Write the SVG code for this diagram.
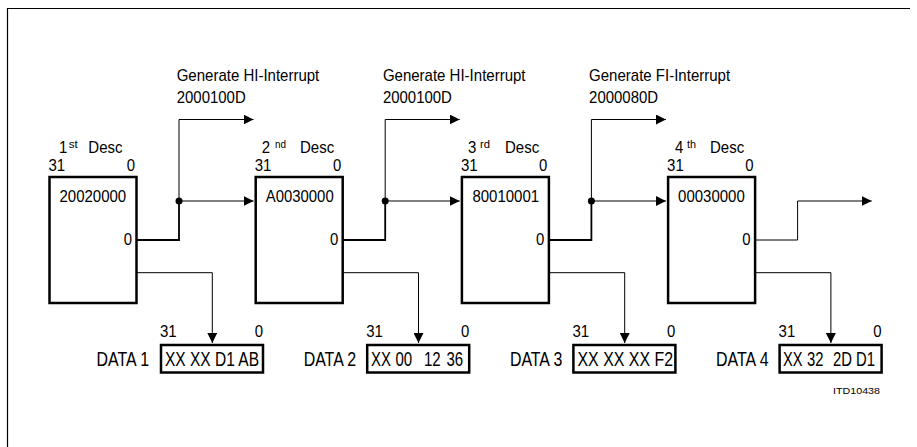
<svg xmlns="http://www.w3.org/2000/svg" width="917" height="447" viewBox="0 0 917 447">
<defs>
<style>
text{font-family:"Liberation Sans",Arial,sans-serif;font-size:17px;fill:#000}
.sup{font-size:11px}
.big{font-size:19.5px}
.e{text-anchor:end}
.box{fill:#fff;stroke:#000;stroke-width:2.5}
.thk{fill:none;stroke:#000;stroke-width:1.8}
.arr{fill:none;stroke:#000;stroke-width:1;marker-end:url(#ah)}
.small{font-size:9.5px}
</style>
<marker id="ah" markerUnits="userSpaceOnUse" markerWidth="10" markerHeight="10" refX="10" refY="5" orient="auto">
<path d="M0,0 L10,5 L0,10 z" fill="#000"/>
</marker>
</defs>
<rect width="917" height="447" fill="#fff"/>
<path d="M7.5,447 V8.5 H910" fill="none" stroke="#000" stroke-width="1.2"/>

<g id="connectors">
<path class="thk" d="M136.5,240 H179 V201"/>
<path class="arr" d="M179,201 V119.5 H253.5"/>
<path class="arr" d="M179,201 H253.5"/>
<circle cx="179" cy="201" r="3.5" fill="#000"/>
<path class="arr" d="M136.5,272.7 H212.3 V343"/>
<path class="thk" d="M342.7,240 H385.2 V201"/>
<path class="arr" d="M385.2,201 V119.5 H459.7"/>
<path class="arr" d="M385.2,201 H459.7"/>
<circle cx="385.2" cy="201" r="3.5" fill="#000"/>
<path class="arr" d="M342.7,272.7 H418.5 V343"/>
<path class="thk" d="M548.9,240 H591.4 V201"/>
<path class="arr" d="M591.4,201 V119.5 H665.9"/>
<path class="arr" d="M591.4,201 H665.9"/>
<circle cx="591.4" cy="201" r="3.5" fill="#000"/>
<path class="arr" d="M548.9,272.7 H624.7 V343"/>
<path class="arr" d="M755.1,240 H797.6 V201 H871.7"/>
<path class="arr" d="M755.1,272.7 H830.9 V343"/>
</g>

<g id="int1">
<text x="176.7" y="80.7" textLength="142.6" lengthAdjust="spacingAndGlyphs">Generate HI-Interrupt</text>
<text x="176.7" y="102.7" textLength="69" lengthAdjust="spacingAndGlyphs">2000100D</text>
</g>
<g id="int2">
<text x="382.9" y="80.7" textLength="142.6" lengthAdjust="spacingAndGlyphs">Generate HI-Interrupt</text>
<text x="382.9" y="102.7" textLength="69" lengthAdjust="spacingAndGlyphs">2000100D</text>
</g>
<g id="int3">
<text x="589.1" y="80.7" textLength="141" lengthAdjust="spacingAndGlyphs">Generate FI-Interrupt</text>
<text x="589.1" y="102.7" textLength="69" lengthAdjust="spacingAndGlyphs">2000080D</text>
</g>

<g id="desc1">
<text x="59" y="152.5" textLength="8.3" lengthAdjust="spacingAndGlyphs">1</text><text class="sup" x="68.8" y="147.5" textLength="9" lengthAdjust="spacingAndGlyphs">st</text><text x="88.3" y="152.5" textLength="34.2" lengthAdjust="spacingAndGlyphs">Desc</text>
<text x="48.5" y="170.5" textLength="16.7" lengthAdjust="spacingAndGlyphs">31</text><text class="e" x="135" y="170.5" textLength="8.3" lengthAdjust="spacingAndGlyphs">0</text>
<rect class="box" x="49.5" y="177" width="87" height="126"/>
<text x="59.5" y="201.5" textLength="66.7" lengthAdjust="spacingAndGlyphs">20020000</text>
<text class="e" x="132" y="245" textLength="8.3" lengthAdjust="spacingAndGlyphs">0</text>
</g>
<g id="desc2">
<text x="261.7" y="152.5" textLength="8.3" lengthAdjust="spacingAndGlyphs">2</text><text class="sup" x="275" y="147.5" textLength="11" lengthAdjust="spacingAndGlyphs">nd</text><text x="300" y="152.5" textLength="34.2" lengthAdjust="spacingAndGlyphs">Desc</text>
<text x="254.7" y="170.5" textLength="16.7" lengthAdjust="spacingAndGlyphs">31</text><text class="e" x="341.2" y="170.5" textLength="8.3" lengthAdjust="spacingAndGlyphs">0</text>
<rect class="box" x="255.7" y="177" width="87" height="126"/>
<text x="265.7" y="201.5" textLength="68" lengthAdjust="spacingAndGlyphs">A0030000</text>
<text class="e" x="338.2" y="245" textLength="8.3" lengthAdjust="spacingAndGlyphs">0</text>
</g>
<g id="desc3">
<text x="468" y="152.5" textLength="8.3" lengthAdjust="spacingAndGlyphs">3</text><text class="sup" x="480" y="147.5" textLength="10" lengthAdjust="spacingAndGlyphs">rd</text><text x="505" y="152.5" textLength="34.2" lengthAdjust="spacingAndGlyphs">Desc</text>
<text x="460.9" y="170.5" textLength="16.7" lengthAdjust="spacingAndGlyphs">31</text><text class="e" x="547.4" y="170.5" textLength="8.3" lengthAdjust="spacingAndGlyphs">0</text>
<rect class="box" x="461.9" y="177" width="87" height="126"/>
<text x="472.4" y="201.5" textLength="66.7" lengthAdjust="spacingAndGlyphs">80010001</text>
<text class="e" x="544.4" y="245" textLength="8.3" lengthAdjust="spacingAndGlyphs">0</text>
</g>
<g id="desc4">
<text x="675" y="152.5" textLength="8.3" lengthAdjust="spacingAndGlyphs">4</text><text class="sup" x="687" y="147.5" textLength="9" lengthAdjust="spacingAndGlyphs">th</text><text x="710" y="152.5" textLength="34.2" lengthAdjust="spacingAndGlyphs">Desc</text>
<text x="667.1" y="170.5" textLength="16.7" lengthAdjust="spacingAndGlyphs">31</text><text class="e" x="753.6" y="170.5" textLength="8.3" lengthAdjust="spacingAndGlyphs">0</text>
<rect class="box" x="668.1" y="177" width="87" height="126"/>
<text x="678.1" y="201.5" textLength="66.7" lengthAdjust="spacingAndGlyphs">00030000</text>
<text class="e" x="750.6" y="245" textLength="8.3" lengthAdjust="spacingAndGlyphs">0</text>
</g>

<g id="data1">
<text x="160" y="337" textLength="16.7" lengthAdjust="spacingAndGlyphs">31</text><text class="e" x="263" y="337" textLength="8.3" lengthAdjust="spacingAndGlyphs">0</text>
<text class="big e" x="149" y="365.5" textLength="52.5" lengthAdjust="spacingAndGlyphs">DATA 1</text>
<rect class="box" x="161" y="345" width="102" height="27.5"/>
<text class="big" x="165" y="365.5" textLength="94" lengthAdjust="spacingAndGlyphs">XX XX D1 AB</text>
</g>
<g id="data2">
<text x="366.2" y="337" textLength="16.7" lengthAdjust="spacingAndGlyphs">31</text><text class="e" x="469.2" y="337" textLength="8.3" lengthAdjust="spacingAndGlyphs">0</text>
<text class="big e" x="356.2" y="365.5" textLength="52.5" lengthAdjust="spacingAndGlyphs">DATA 2</text>
<rect class="box" x="367.2" y="345" width="102" height="27.5"/>
<text class="big" y="365.5"><tspan x="371" textLength="20" lengthAdjust="spacingAndGlyphs">XX</tspan><tspan x="395.5" textLength="16.7" lengthAdjust="spacingAndGlyphs">00</tspan><tspan x="424" textLength="16.7" lengthAdjust="spacingAndGlyphs">12</tspan><tspan x="446.5" textLength="16.7" lengthAdjust="spacingAndGlyphs">36</tspan></text>
</g>
<g id="data3">
<text x="572.4" y="337" textLength="16.7" lengthAdjust="spacingAndGlyphs">31</text><text class="e" x="675.4" y="337" textLength="8.3" lengthAdjust="spacingAndGlyphs">0</text>
<text class="big e" x="562.4" y="365.5" textLength="52.5" lengthAdjust="spacingAndGlyphs">DATA 3</text>
<rect class="box" x="573.4" y="345" width="102" height="27.5"/>
<text class="big" x="577.5" y="365.5" textLength="95.5" lengthAdjust="spacingAndGlyphs">XX XX XX F2</text>
</g>
<g id="data4">
<text x="778.6" y="337" textLength="16.7" lengthAdjust="spacingAndGlyphs">31</text><text class="e" x="881.6" y="337" textLength="8.3" lengthAdjust="spacingAndGlyphs">0</text>
<text class="big e" x="768.6" y="365.5" textLength="52.5" lengthAdjust="spacingAndGlyphs">DATA 4</text>
<rect class="box" x="779.6" y="345" width="102" height="27.5"/>
<text class="big" y="365.5"><tspan x="783" textLength="19.5" lengthAdjust="spacingAndGlyphs">XX</tspan><tspan x="807" textLength="16.5" lengthAdjust="spacingAndGlyphs">32</tspan><tspan x="833" textLength="19" lengthAdjust="spacingAndGlyphs">2D</tspan><tspan x="856" textLength="19" lengthAdjust="spacingAndGlyphs">D1</tspan></text>
</g>

<text class="small" x="833" y="394" textLength="47" lengthAdjust="spacingAndGlyphs">ITD10438</text>
</svg>
